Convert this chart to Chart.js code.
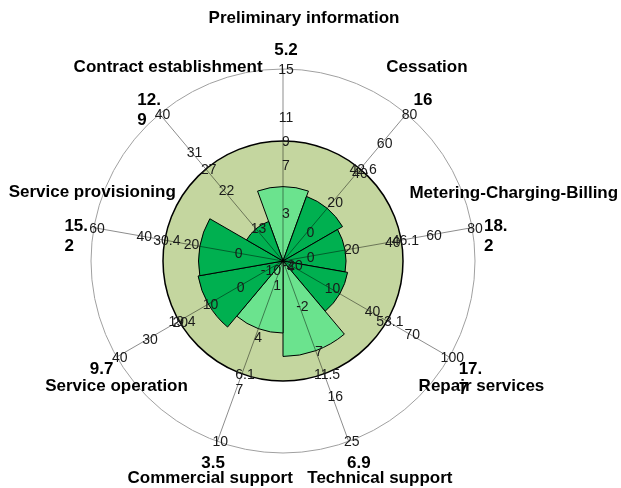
<!DOCTYPE html>
<html>
<head>
<meta charset="utf-8">
<script src="https://cdn.jsdelivr.net/npm/chart.js@4.4.1/dist/chart.umd.min.js"></script>
<style>
  html, body { margin: 0; padding: 0; background: #fff; }
  #wrap { position: relative; width: 621px; height: 488px; }
</style>
</head>
<body>
<div id="wrap"><canvas id="chart"></canvas></div>
<script>
// --- data (clockwise from the top) ---
const categories = [
    'Preliminary information', 'Cessation', 'Metering-Charging-Billing',
    'Repair services', 'Technical support', 'Commercial support',
    'Service operation', 'Service provisioning', 'Contract establishment'
];
const scores    = [5.2, 16, 18.2, 17.7, 6.9, 3.5, 9.7, 15.2, 12.9];
const refValues = [9, 42.6, 46.1, 53.1, 11.5, 6.1, 19.4, 30.4, 27];
const axisMin   = [-1, -19.7, -12, -25, -11, -0.4, -15, -20, 5.3];
const axisMax   = [15, 80, 80, 100, 25, 10, 40, 60, 40];
const spokeTicks = [
    [3, 7, 11, 15],
    [0, 20, 40, 60, 80],
    [0, 20, 40, 60, 80],
    [-20, 10, 40, 70, 100],
    [-2, 7, 16, 25],
    [1, 4, 7, 10],
    [-10, 0, 10, 20, 30, 40],
    [0, 20, 40, 60],
    [4, 13, 22, 31, 40]
];

// --- look ---
const LIGHT = '#6be38e', DARK = '#00b050', DISC = '#c4d69f';
const barColors = [LIGHT, DARK, DARK, DARK, LIGHT, LIGHT, DARK, DARK, DARK];
const FONT = "'Liberation Sans', Arial, sans-serif";
const VALUE_GAP = 21;      // value label distance beyond the outer ring
const nameShift = [[18, -32], [4, -33], [18, -33], [11, 17], [21, 15], [-3, 15], [15, 17], [16, -34], [19, -33]];

// every spoke has its own range: map a value to 0..1 along its spoke
const frac = (v, i) => (v - axisMin[i]) / (axisMax[i] - axisMin[i]);

const spokePlugin = {
    id: 'spokes',
    beforeDatasetsDraw(chart) {
        const r = chart.scales.r, ctx = chart.ctx;
        const R = r.getDistanceFromCenterForValue(1);
        const d = r.getDistanceFromCenterForValue(frac(refValues[0], 0));
        ctx.save();
        ctx.beginPath();
        ctx.arc(r.xCenter, r.yCenter, R, 0, Math.PI * 2);
        ctx.strokeStyle = '#a0a0a0';
        ctx.lineWidth = 1;
        ctx.stroke();
        ctx.beginPath();
        ctx.arc(r.xCenter, r.yCenter, d, 0, Math.PI * 2);
        ctx.fillStyle = DISC;
        ctx.fill();
        ctx.strokeStyle = '#000';
        ctx.lineWidth = 1.5;
        ctx.stroke();
        ctx.restore();
    },
    afterDatasetsDraw(chart) {
        const r = chart.scales.r, ctx = chart.ctx;
        const R = r.getDistanceFromCenterForValue(1);
        const half = Math.PI / categories.length;
        ctx.save();
        categories.forEach((name, i) => {
            const a = r.getIndexAngle(i) + half - Math.PI / 2;
            const pt = dist => ({ x: r.xCenter + Math.cos(a) * dist, y: r.yCenter + Math.sin(a) * dist });

            // spoke
            const end = pt(R);
            ctx.beginPath();
            ctx.moveTo(r.xCenter, r.yCenter);
            ctx.lineTo(end.x, end.y);
            ctx.strokeStyle = 'rgba(0,0,0,0.45)';
            ctx.lineWidth = 1;
            ctx.stroke();

            // tick labels + reference value
            ctx.font = '14px ' + FONT;
            ctx.fillStyle = '#1a1a1a';
            ctx.textAlign = 'center';
            ctx.textBaseline = 'middle';
            spokeTicks[i].concat([refValues[i]]).forEach(t => {
                const p = pt(r.getDistanceFromCenterForValue(frac(t, i)));
                ctx.fillText(String(t), p.x + 3, p.y + 1);
            });

            // score label (wraps after 3 characters)
            const anc = pt(R + VALUE_GAP);
            anc.x += 3; anc.y += 2;
            const s = String(scores[i]);
            const lines = s.length > 3 ? [s.slice(0, 3), s.slice(3)] : [s];
            ctx.font = 'bold 17px ' + FONT;
            ctx.fillStyle = '#000';
            const left = anc.x - ctx.measureText(lines[0]).width / 2;
            ctx.textAlign = 'left';
            lines.forEach((ln, k) => ctx.fillText(ln, left, anc.y + k * 20));

            // category name
            ctx.textAlign = 'center';
            ctx.fillText(name, anc.x + nameShift[i][0], anc.y + nameShift[i][1]);
        });
        ctx.restore();
    }
};

new Chart(document.getElementById('chart'), {
    type: 'polarArea',
    data: {
        labels: categories,
        datasets: [{
            data: scores.map(frac),
            backgroundColor: barColors,
            borderColor: '#000',
            borderWidth: 1
        }]
    },
    options: {
        responsive: true,
        maintainAspectRatio: false,
        animation: false,
        devicePixelRatio: 1,
        layout: { padding: { left: 91, top: 69, right: 146, bottom: 35 } },
        plugins: { legend: { display: false }, tooltip: { enabled: false } },
        scales: {
            r: {
                min: 0, max: 1,
                startAngle: -180 / categories.length,
                ticks: { display: false },
                grid: { display: false },
                angleLines: { display: false },
                pointLabels: { display: false }
            }
        }
    },
    plugins: [spokePlugin]
});
</script>
</body>
</html>
